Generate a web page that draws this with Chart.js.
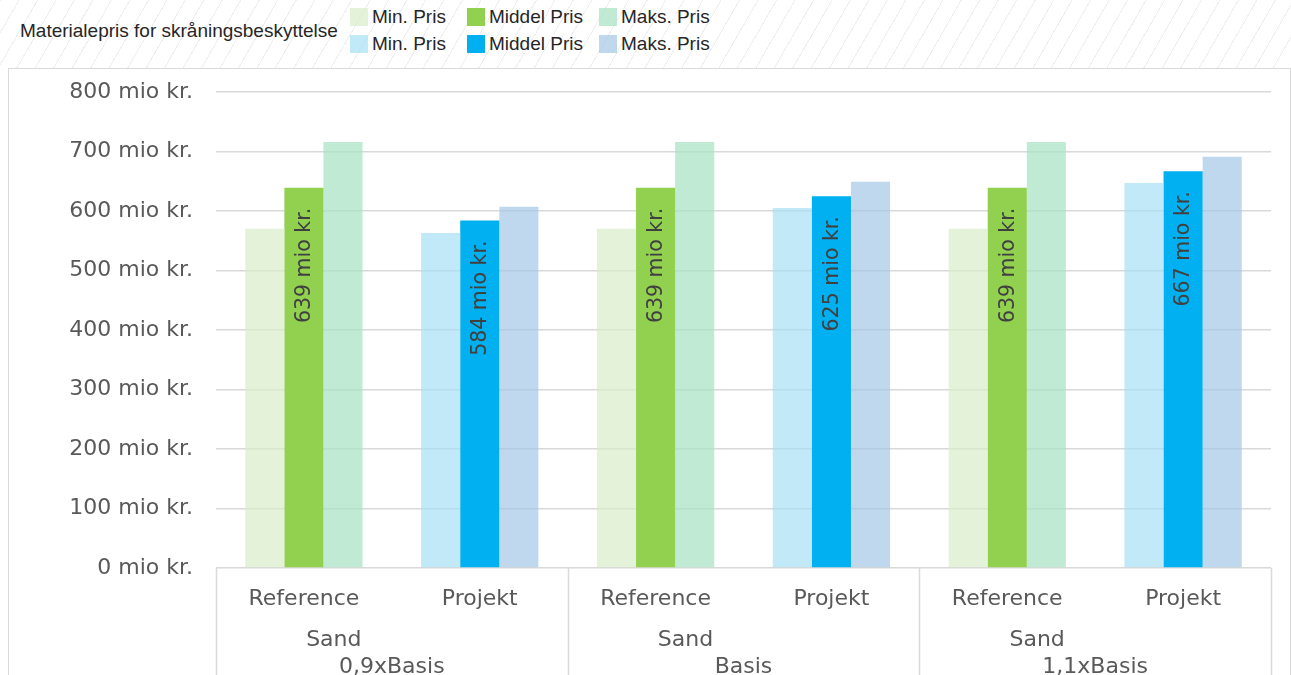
<!DOCTYPE html>
<html>
<head>
<meta charset="utf-8">
<script src="https://cdn.jsdelivr.net/npm/chart.js@4"></script>
<style>
  html, body { margin: 0; padding: 0; width: 1291px; height: 675px; overflow: hidden; background: #fff; }
  body {
    background-image: repeating-linear-gradient(-60deg, transparent 0 15px, rgba(200,200,200,0.3) 15px 16px);
    background-size: 100% 68px; background-repeat: no-repeat;
  }
  #legend { position: absolute; left: 0; top: 0; width: 740px; height: 66px; font-family: "Liberation Sans Narrow", "Liberation Sans", sans-serif; font-size: 19px; color: #262626; }
  #legend .title { position: absolute; left: 20px; top: 20px; }
  #legend .item { position: absolute; white-space: nowrap; }
  #legend .sw { display: inline-block; width: 18px; height: 18px; vertical-align: -3px; margin-right: 4px; }
  #box { position: absolute; left: 8px; top: 68px; width: 1281px; height: 640px; border: 1px solid #d9d9d9; background: #fff; }
  #box canvas { display: block; }
</style>
</head>
<body>
<div id="legend"><span class="title">Materialepris for skråningsbeskyttelse</span></div>
<div id="box"><canvas id="mycanvas" width="1281" height="607"></canvas></div>
<script>
// categories and two-level group labels
var categories = ["Reference", "Projekt", "Reference", "Projekt", "Reference", "Projekt"];
var materials = ["Sand", "Sand", "Sand"];
var scenarios = ["0,9xBasis", "Basis", "1,1xBasis"];

// values in mio kr.
var minPris = [570, 563, 570, 605, 570, 647];
var middelPris = [639, 584, 639, 625, 639, 667];
var maksPris = [716, 607, 716, 649, 716, 691];

var yTicks = [0, 100, 200, 300, 400, 500, 600, 700, 800];

// colours: green for reference, blue for projekt
var greenCols = ["rgba(215,236,200,0.7)", "#92d050", "rgba(168,226,196,0.72)"];
var blueCols = ["rgba(164,222,244,0.68)", "#00b0f0", "rgba(160,197,230,0.68)"];
var seriesNames = ["Min. Pris", "Middel Pris", "Maks. Pris"];

function colsFor(k) {
  return categories.map(function (c) { return c === "Reference" ? greenCols[k] : blueCols[k]; });
}

// html legend, two rows of three
var legend = document.getElementById("legend");
var colX = [350, 467, 599];
[greenCols, blueCols].forEach(function (cols, row) {
  cols.forEach(function (col, k) {
    var d = document.createElement("div");
    d.className = "item";
    d.style.left = colX[k] + "px";
    d.style.top = (6 + row * 27) + "px";
    d.innerHTML = '<span class="sw" style="background:' + col + '"></span>' + seriesNames[k];
    legend.appendChild(d);
  });
});

var tickFont = { family: "DejaVu Sans", size: 22 };

// labels inside the middle bars + group separators and group labels
var extras = {
  id: "extras",
  afterDatasetsDraw: function (chart) {
    var ctx = chart.ctx;
    var meta = chart.getDatasetMeta(1);
    ctx.save();
    ctx.fillStyle = "#404040";
    ctx.font = "20.5px DejaVu Sans";
    ctx.textAlign = "right";
    ctx.textBaseline = "middle";
    meta.data.forEach(function (bar, i) {
      ctx.save();
      ctx.translate(bar.x, bar.y + 20);
      ctx.rotate(-Math.PI / 2);
      ctx.fillText(middelPris[i] + " mio kr.", 0, 1);
      ctx.restore();
    });
    ctx.restore();
  },
  afterDraw: function (chart) {
    var ctx = chart.ctx;
    var xs = chart.scales.x;
    var area = chart.chartArea;
    var step = xs.getPixelForValue(1) - xs.getPixelForValue(0);
    ctx.save();
    ctx.strokeStyle = "#d9d9d9";
    ctx.lineWidth = 1.5;
    for (var g = 0; g <= scenarios.length; g++) {
      var x = Math.round(xs.getPixelForValue(g * 2) - step / 2) + 0.5;
      ctx.beginPath();
      ctx.moveTo(x, area.bottom);
      ctx.lineTo(x, chart.height);
      ctx.stroke();
    }
    ctx.fillStyle = "#595959";
    ctx.font = "22px DejaVu Sans";
    ctx.textAlign = "center";
    ctx.textBaseline = "middle";
    for (var j = 0; j < scenarios.length; j++) {
      var left = xs.getPixelForValue(j * 2);
      var right = xs.getPixelForValue(j * 2 + 1);
      ctx.fillText(materials[j], left + (right - left) * 0.17, area.bottom + 72);
      ctx.fillText(scenarios[j], (left + right) / 2, area.bottom + 99);
    }
    ctx.restore();
  }
};

new Chart(document.getElementById("mycanvas"), {
  type: "bar",
  data: {
    labels: categories,
    datasets: [0, 1, 2].map(function (k) {
      var vals = [minPris, middelPris, maksPris][k];
      return {
        label: seriesNames[k],
        data: vals,
        backgroundColor: colsFor(k),
        borderWidth: 0,
        categoryPercentage: 0.667,
        barPercentage: 1
      };
    })
  },
  options: {
    responsive: false,
    animation: false,
    devicePixelRatio: 1,
    layout: { padding: { top: 23, right: 19, left: 0, bottom: 0 } },
    plugins: { legend: { display: false }, tooltip: { enabled: false } },
    scales: {
      x: {
        grid: { display: false },
        border: { display: false },
        ticks: { color: "#595959", font: tickFont, padding: 10, maxRotation: 0 },
        afterFit: function (s) { s.height = 108; s.paddingLeft = 0; s.paddingRight = 0; }
      },
      y: {
        min: 0,
        max: 800,
        afterBuildTicks: function (s) { s.ticks = yTicks.map(function (v) { return { value: v }; }); },
        afterFit: function (s) { s.width = 207; s.paddingTop = 0; s.paddingBottom = 0; },
        grid: { color: "#d9d9d9", lineWidth: 1.5, drawTicks: false },
        border: { display: false },
        ticks: {
          color: "#595959",
          font: tickFont,
          padding: 23,
          callback: function (v) { return v + " mio kr."; }
        }
      }
    }
  },
  plugins: [extras]
});
</script>
</body>
</html>
